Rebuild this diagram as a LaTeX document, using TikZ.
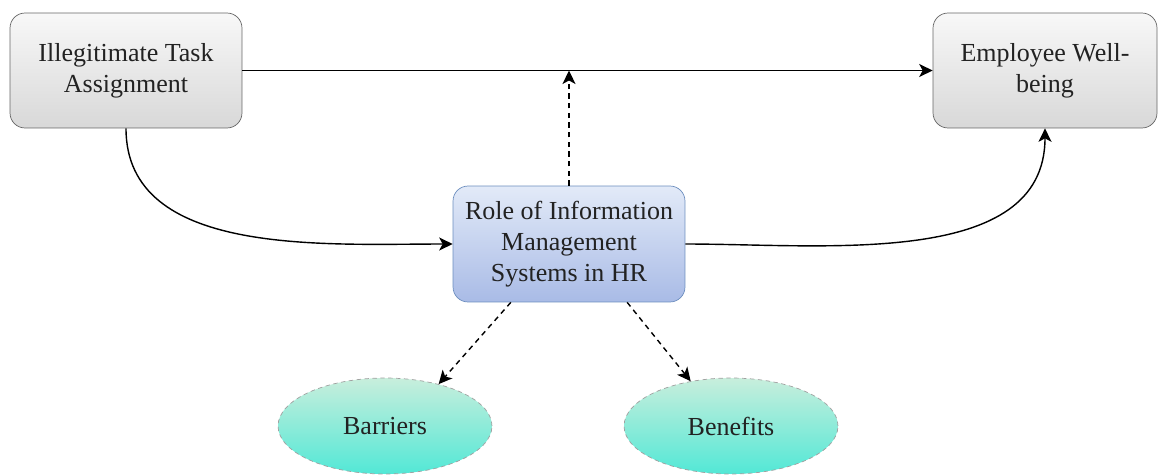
\documentclass[tikz,border=0pt]{standalone}
\usepackage{fontspec}
\setmainfont{Liberation Serif}
\usetikzlibrary{shapes.geometric,arrows.meta,calc}

\definecolor{greytop}{HTML}{F8F8F8}
\definecolor{greybot}{HTML}{D8D8D8}
\definecolor{greyline}{HTML}{666666}
\definecolor{bluetop}{HTML}{E2EAF8}
\definecolor{bluebot}{HTML}{A9BBE6}
\definecolor{blueline}{HTML}{6C8EBF}
\definecolor{minttop}{HTML}{C8EEDC}
\definecolor{mintbot}{HTML}{52E8D6}
\definecolor{mintline}{HTML}{A0A0A0}
\definecolor{txt}{HTML}{222222}

\begin{document}
\begin{tikzpicture}[x=0.02cm,y=-0.02cm,
	box/.style={rounded corners=0.3cm,align=center,text=txt,inner sep=0pt,font=\fontsize{14.8}{17.5}\selectfont},
	greybox/.style={box,draw=greyline,top color=greytop,bottom color=greybot,minimum height=2.3cm},
	bluebox/.style={box,draw=blueline,top color=bluetop,bottom color=bluebot,minimum width=4.64cm,minimum height=2.32cm},
	oval/.style={ellipse,draw=mintline,dash pattern=on 2.5pt off 2pt,top color=minttop,bottom color=mintbot,text=txt,inner sep=0pt,minimum width=4.28cm,minimum height=1.92cm,font=\fontsize{14.8}{17.5}\selectfont},
	link/.style={-{Stealth[length=0.27cm,width=0.26cm,inset=0.07cm]},line width=0.8pt},
	dlink/.style={link,dash pattern=on 3pt off 2.5pt}
	]
	\useasboundingbox (0,0) rectangle (1158,474);
	\node [greybox,minimum width=4.64cm] (task) at (126,70.5) {Illegitimate Task\\Assignment};
	\node [greybox,minimum width=4.48cm] (well) at (1045,70.5) {Employee Well-\\being};
	\node [bluebox] (ims) at (569,244) {Role of Information\\Management\\Systems in HR};
	\node [oval] (barr) at (385,426) {Barriers};
	\node [oval] (bene) at (731,426) {Benefits};
	\coordinate (mod) at (ims.north |- task.east);
	\draw [link] (task.east) -- (well.west);
	\draw [dlink] (ims.north) -- (mod);
	\draw [link] (task.south) to [out=-90,in=180,looseness=0.95] (ims.west);
	\draw [link] (ims.east) to [out=0,in=-90,looseness=0.95] (well.south);
	\draw [dlink] ($(ims.south west)!0.25!(ims.south east)$) -- (barr.38);
	\draw [dlink] ($(ims.south west)!0.75!(ims.south east)$) -- (bene.132);
	\end{tikzpicture}
\end{document}
